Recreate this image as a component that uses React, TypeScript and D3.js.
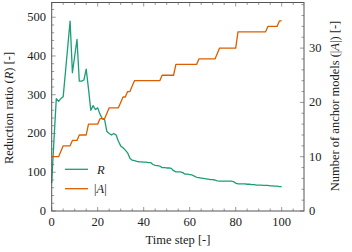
import React from "react";
import * as d3 from "d3";

const timeSteps: number[] = d3.range(0, 101);
const ratioR: number[] = [
  72, 185, 290, 283, 290, 295, 360, 425, 490, 357,
  400, 443, 335, 335, 338, 366, 315, 260, 272, 262,
  266, 250, 238, 236, 205, 200, 196, 200, 196, 180,
  168, 163, 157, 150, 136, 131, 130, 128, 127, 127,
  126, 126, 125, 125, 120, 118, 117, 116, 112, 112,
  111, 111, 110, 104, 101, 101, 101, 99, 95, 95,
  94, 93, 90, 87, 86, 85, 84, 83, 82, 81,
  81, 80, 78, 77, 77, 77, 77, 77, 77, 76,
  72, 70, 70, 70, 70, 69, 69, 68, 68, 67,
  67, 67, 66, 66, 66, 65, 65, 64, 64, 63, 63,
];
const anchors: number[] = [
  10, 10, 10, 10, 11, 12, 12, 12, 12, 13,
  13, 13, 14, 14, 14, 14, 16, 16, 16, 16,
  16, 17, 17, 17, 18, 19, 19, 19, 19, 19,
  20, 21, 21, 22, 22, 23, 24, 24, 24, 24,
  24, 24, 24, 24, 24, 24, 24, 24, 25, 25,
  25, 25, 25, 25, 27, 27, 27, 27, 27, 27,
  27, 27, 27, 27, 28, 28, 28, 28, 28, 28,
  28, 28, 29, 30, 30, 30, 30, 30, 30, 30,
  30, 33, 33, 33, 33, 33, 33, 33, 33, 33,
  33, 33, 33, 33, 34, 34, 34, 34, 34, 35, 35,
];
const xTicks = [0, 20, 40, 60, 80, 100];
const yLeftTicks = [0, 100, 200, 300, 400, 500];
const yRightTicks = [0, 10, 20, 30];

const GREEN = "#1b9e77";
const ORANGE = "#d95f02";
const FONT = "'Liberation Serif', 'Times New Roman', Times, serif";

export default function App() {
  const W = 352, H = 252;
  const L = 51.7, R = 304, T = 2.5, B = 211;
  const x = d3.scaleLinear().domain([0, 109.7]).range([L, R]);
  const yL = d3.scaleLinear().domain([0, 538]).range([B, T]);
  const yR = d3.scaleLinear().domain([0, 38.4]).range([B, T]);

  const lineR = d3.line<number>().x((_, i) => x(timeSteps[i])).y((d) => yL(d));
  const lineA = d3.line<number>().x((_, i) => x(timeSteps[i])).y((d) => yR(d));

  const xMinor = d3.range(0, 110, 5);
  const yLMinor = d3.range(0, 540, 20);
  const yRMinor = d3.range(0, 38.4, 2);
  const axisColor = "#555";

  return (
    <div style={{ fontFamily: FONT }}>
      <svg width={W} height={H} style={{ position: "absolute", left: 0, top: 0 }}>
        <style>{`text, tspan { font-family: ${FONT}; }`}</style>
        <rect x={0} y={0} width={W} height={H} fill="white" />
        <g stroke={axisColor} strokeWidth={0.6}>
          {xMinor.map((t) => (
            <g key={"xm" + t}>
              <line x1={x(t)} x2={x(t)} y1={B} y2={B - (t % 20 === 0 ? 4 : 2.5)} />
              <line x1={x(t)} x2={x(t)} y1={T} y2={T + (t % 20 === 0 ? 4 : 2.5)} />
            </g>
          ))}
          {yLMinor.map((t) => (
            <line key={"yl" + t} x1={L} x2={L + (t % 100 === 0 ? 4 : 2.5)} y1={yL(t)} y2={yL(t)} />
          ))}
          {yRMinor.map((t) => (
            <line key={"yr" + t} x1={R} x2={R - (t % 10 === 0 ? 4 : 2.5)} y1={yR(t)} y2={yR(t)} />
          ))}
        </g>
        <path d={lineR(ratioR) ?? ""} fill="none" stroke={GREEN} strokeWidth={1.3} strokeLinejoin="round" />
        <path d={lineA(anchors) ?? ""} fill="none" stroke={ORANGE} strokeWidth={1.3} strokeLinejoin="round" />
        <rect x={L} y={T} width={R - L} height={B - T} fill="none" stroke={axisColor} strokeWidth={1} />
        <g fontSize={12.5} fill="#222">
          {xTicks.map((t) => (
            <text key={"xt" + t} x={x(t)} y={226} textAnchor="middle">{t}</text>
          ))}
          {yLeftTicks.map((t) => (
            <text key={"ylt" + t} x={46} y={yL(t) + 4} textAnchor="end">{t}</text>
          ))}
          {yRightTicks.map((t) => (
            <text key={"yrt" + t} x={309} y={yR(t) + 4} textAnchor="start">{t}</text>
          ))}
        </g>
        <text x={178} y={244} fontSize={12.5} textAnchor="middle" fill="#222">Time step [-]</text>
        <text transform={`translate(13,108) rotate(-90)`} fontSize={12.5} textAnchor="middle" fill="#222">
          Reduction ratio (<tspan fontStyle="italic">R</tspan>) [-]
        </text>
        <text transform={`translate(339,106) rotate(-90)`} fontSize={12.5} textAnchor="middle" fill="#222">
          Number of anchor models (|<tspan fontStyle="italic">A</tspan>|) [-]
        </text>
        <line x1={65} x2={88} y1={169.3} y2={169.3} stroke={GREEN} strokeWidth={1.3} />
        <line x1={65} x2={88} y1={188.7} y2={188.7} stroke={ORANGE} strokeWidth={1.3} />
        <text x={97} y={173.5} fontSize={12.5} fontStyle="italic" fill="#222">R</text>
        <text x={94} y={193} fontSize={12.5} fill="#222">|<tspan fontStyle="italic">A</tspan>|</text>
      </svg>
    </div>
  );
}
